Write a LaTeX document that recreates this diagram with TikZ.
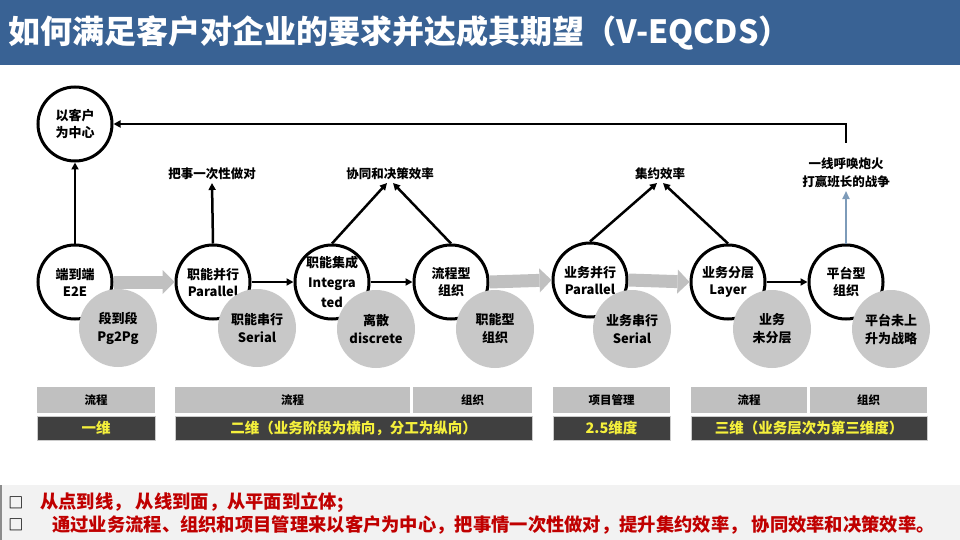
\documentclass[tikz,border=0pt]{standalone}
\usepackage{fontspec}
\setmainfont{Noto Sans CJK SC}
\usetikzlibrary{arrows.meta, calc}
\definecolor{barBlue}{RGB}{57,98,148}
\definecolor{circGray}{RGB}{200,200,200}
\definecolor{arrGray}{RGB}{192,192,192}
\definecolor{hdrGray}{RGB}{192,192,192}
\definecolor{dimDark}{RGB}{64,64,64}
\definecolor{dimText}{RGB}{245,240,60}
\definecolor{noteRed}{RGB}{192,0,0}
\definecolor{panelBg}{RGB}{242,242,242}
\definecolor{upBlue}{RGB}{125,155,185}
\tikzset{
    wcirc/.style={
        circle, draw=black, fill=white, line width=3pt,
        minimum size=74pt, inner sep=0pt, align=center,
        font=\bfseries\fontsize{13}{17}\selectfont
    },
    gcirc/.style={
        circle, fill=circGray, minimum size=78pt, inner sep=0pt,
        align=center, font=\bfseries\fontsize{13}{18}\selectfont
    },
    lbl/.style={align=center, inner sep=3pt, font=\bfseries\fontsize{12.5}{18}\selectfont},
    hdr/.style={fill=hdrGray, minimum height=26pt, inner sep=0pt, font=\bfseries\fontsize{11.5}{14}\selectfont},
    dimcell/.style={
        fill=dimDark, draw=black!20, line width=1pt, minimum height=24pt,
        inner sep=0pt, text=dimText, font=\bfseries\fontsize{14.5}{16}\selectfont
    },
    note/.style={anchor=west, inner sep=0pt, text=noteRed, font=\bfseries\fontsize{18.3}{20}\selectfont},
    bullet/.style={inner sep=0pt, font=\bfseries\fontsize{15}{16}\selectfont},
    lin/.style={-{Triangle[length=7pt, width=7pt]}, line width=2.5pt, draw=black},
    upb/.style={-{Triangle[length=8pt, width=7pt]}, line width=1.8pt, draw=upBlue},
    blk/.style={-{Triangle[length=12pt, width=24pt, line width=0pt]}, line width=13pt, draw=arrGray}
}
\begin{document}
\begin{tikzpicture}[x=1pt, y=-1pt]
      \useasboundingbox (0,0) rectangle (960,540);
      % title bar and note panel
      \fill[barBlue] (0,0) rectangle (960,65);
      \node[anchor=west, inner sep=0pt, text=white, font=\bfseries\fontsize{32}{36}\selectfont] (TT) at (8,33) {如何满足客户对企业的要求并达成其期望（V-EQCDS）};
      \fill[panelBg] (0,485) rectangle (960,540);
      \draw[black!45, line width=1.2pt] (1,485) -- (1,540);
      % stages
      \node[wcirc] (C0) at (75,124) {以客户\\为中心};
      \node[wcirc] (A1) at (75,282) {端到端\\E2E};
      \node[wcirc] (A2) at (213,282) {职能并行\\Parallel};
      \node[wcirc, font=\bfseries\fontsize{13}{20}\selectfont] (A3) at (332,282) {职能集成\\Integra\\ted};
      \node[wcirc] (A4) at (451,282) {流程型\\组织};
      \node[wcirc] (A5) at (590,280) {业务并行\\Parallel};
      \node[wcirc] (A6) at (728,282) {业务分层\\Layer};
      \node[wcirc] (A7) at (846,282) {平台型\\组织};
      \node[gcirc] (B1) at (118,328) {段到段\\Pg2Pg};
      \node[gcirc] (B2) at (257,328) {职能串行\\Serial};
      \node[gcirc] (B3) at (376,329) {离散\\discrete};
      \node[gcirc] (B4) at (495,329) {职能型\\组织};
      \node[gcirc] (B5) at (632,329) {业务串行\\Serial};
      \node[gcirc] (B6) at (772,329) {业务\\未分层};
      \node[gcirc] (B7) at (891,329) {平台未上\\升为战略};
      \node[lbl, anchor=south] (L1) at (212,183) {把事一次性做对};
      \node[lbl, anchor=south] (L2) at (390,183) {协同和决策效率};
      \node[lbl, anchor=south] (L3) at (660,183) {集约效率};
      \node[lbl, anchor=south] (L4) at (846,191) {一线呼唤炮火\\打赢班长的战争};
      \coordinate (TP) at (846,143);
      % connectors
      \draw[lin] (A1) -- (C0);
      \draw[lin] (TP) |- (C0.east);
      \draw[lin] (A2.north) -- (L1.south);
      \draw[lin] (A3.north) -- ([xshift=-3pt]L2.south);
      \draw[lin] (A4.north) -- ([xshift=3pt]L2.south);
      \draw[lin] (A5.north) -- ([xshift=-3pt]L3.south);
      \draw[lin] (A6.north) -- ([xshift=3pt]L3.south);
      \draw[upb] (A7.north) -- (L4.south);
      \draw[lin] (A2.east) -- (A3.west);
      \draw[lin] (A3.east) -- (A4.west);
      \draw[lin] (A6.east) -- (A7.west);
      \draw[blk] (A1.east) -- (A2.west);
      \draw[blk] (A4.east) -- (A5.west);
      \draw[blk] (A5.east) -- (A6.west);
      % dimension tables
      \node[hdr, minimum width=118pt] (H1) at (96,400) {流程};
      \node[dimcell, minimum width=118pt] (D1) at (96,428) {一维};
      \node[hdr, minimum width=235pt] (H2) at (292.5,400) {流程};
      \node[hdr, minimum width=119pt] (H3) at (472.5,400) {组织};
      \node[dimcell, minimum width=357pt] (D2) at (353.5,428) {二维（业务阶段为横向，分工为纵向）};
      \node[hdr, minimum width=117pt] (H4) at (611.5,400) {项目管理};
      \node[dimcell, minimum width=117pt] (D3) at (611.5,428) {2.5维度};
      \node[hdr, minimum width=116pt] (H5) at (749,400) {流程};
      \node[hdr, minimum width=117pt] (H6) at (868.5,400) {组织};
      \node[dimcell, minimum width=236pt] (D4) at (809,428) {三维（业务层次为第三维度）};
      % notes
      \node[bullet] (Q1) at (16,503) {□};
      \node[bullet] (Q2) at (16,525) {□};
      \node[note] (N1) at (40,503) {从点到线， 从线到面，从平面到立体;};
      \node[note] (N2) at (52,525) {通过业务流程、组织和项目管理来以客户为中心，把事情一次性做对，提升集约效率， 协同效率和决策效率。};
    \end{tikzpicture}
\end{document}
